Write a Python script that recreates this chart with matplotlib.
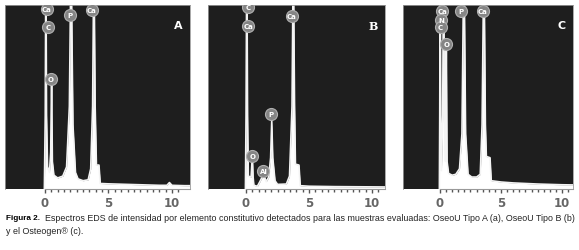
import matplotlib
matplotlib.use('Agg')
import matplotlib.pyplot as plt

# EDS spectra, energy in keV and counts in % of the plot height
energy_a = [-0.05, 0.02, 0.07, 0.12, 0.2, 0.35, 0.45, 0.52, 0.58, 0.7, 1.0, 1.4, 1.7, 1.92, 2.05,
            2.2, 2.4, 2.6, 3.0, 3.4, 3.6, 3.75, 3.85, 3.95, 4.05, 4.25, 4.35, 5, 6, 7, 8, 9,
            9.6, 9.8, 10.0, 11, 11.5]
counts_a = [0, 40, 130, 40, 12, 9, 20, 61, 15, 7.5, 6, 7, 12, 45, 130,
            35, 9, 5.5, 4.5, 5, 11, 45, 130, 45, 13, 13, 3, 2.8, 2.6, 2.4, 2.2, 2,
            2, 3.5, 2, 1.8, 1.8]

energy_b = [-0.05, 0.0, 0.06, 0.12, 0.18, 0.4, 0.5, 0.56, 0.62, 0.9, 1.1, 1.38, 1.6, 1.8, 1.95,
            2.04, 2.12, 2.3, 2.5, 3.2, 3.45, 3.65, 3.75, 3.85, 3.92, 4.2, 4.3, 5, 7, 9, 11.2]
counts_b = [0, 40, 130, 40, 7, 6.5, 18, 6.5, 2, 1.5, 4, 8, 4, 6.5, 17,
            37, 17, 4.5, 2.5, 2.7, 7, 45, 130, 45, 13.5, 13, 1.8, 1.5, 1.3, 1.2, 1.1]

energy_c = [-0.05, -0.02, 0.02, 0.06, 0.12, 0.22, 0.3, 0.36, 0.45, 0.52, 0.58, 0.7, 1.0, 1.3, 1.6,
            1.8, 1.96, 2.1, 2.3, 2.6, 3.0, 3.3, 3.45, 3.6, 3.72, 3.8, 4.1, 4.2, 5, 6, 7, 8, 9,
            10, 11]
counts_c = [0, 40, 130, 40, 10, 40, 130, 40, 15, 79, 15, 8.5, 7.5, 8, 11,
            30, 130, 30, 8, 6.5, 6.5, 8, 35, 130, 35, 17.7, 17, 4.5, 3.8, 3.3, 3, 2.7, 2.5,
            2.3, 2.2]

# element markers: (symbol, energy, height)
labels_a = [('Ca', 0.13, 98), ('C', 0.26, 88), ('O', 0.45, 60), ('P', 1.97, 94.5), ('Ca', 3.68, 97.5)]
labels_b = [('C', 0.18, 99), ('Ca', 0.18, 88.5), ('O', 0.5, 18), ('Al', 1.38, 10),
            ('P', 1.98, 41), ('Ca', 3.62, 94)]
labels_c = [('Ca', 0.2, 97), ('N', 0.1, 92), ('C', 0.05, 88), ('O', 0.52, 79),
            ('P', 1.75, 97), ('Ca', 3.5, 97)]

panels = [
    ('A', energy_a, counts_a, labels_a, [5, 190], (-3.15, 11.42), 'DejaVu Sans'),
    ('B', energy_b, counts_b, labels_b, [208, 385], (-3.02, 11.03), 'DejaVu Serif'),
    ('C', energy_c, counts_c, labels_c, [403, 573], (-3.03, 10.9), 'DejaVu Sans'),
]

W, H = 579, 251
fig = plt.figure(figsize=(W / 100, H / 100), dpi=100)

for letter, en, ct, labs, (x0, x1), xlim, fam in panels:
    ax = fig.add_axes([x0 / W, 1 - 190 / H, (x1 - x0) / W, 184 / H])
    ax.set_facecolor('#1e1e1e')
    ax.fill_between(en, ct, 0, color='white', lw=0)
    ax.plot(en, ct, color='#f4f4f4', lw=1.2)
    ax.set_xlim(*xlim)
    ax.set_ylim(0, 100)
    for sym, e, h in labs:
        ax.scatter([e], [h], s=75, color='#858585', edgecolor='#b0b0b0', lw=0.8, zorder=3)
        ax.text(e, h, sym, color='white', fontsize=5, fontweight='bold',
                ha='center', va='center', zorder=4)
    ax.text(0.935, 0.89, letter, transform=ax.transAxes, color='white', fontsize=8,
            fontweight='bold', family=fam, ha='center', va='center')
    for s in ['top', 'left', 'right']:
        ax.spines[s].set_color('#9a9a9a')
        ax.spines[s].set_linewidth(0.6)
    ax.spines['bottom'].set_color('#999999')
    ax.spines['bottom'].set_bounds(0, xlim[1])
    ax.set_yticks([])
    ax.set_xticks([0, 5, 10])
    ax.set_xticks([v * 0.5 for v in range(1, 22) if v % 10], minor=True)
    ax.tick_params(axis='x', which='major', length=3, width=1, color='#555555',
                   labelsize=8.5, labelcolor='#666666', pad=2)
    ax.tick_params(axis='x', which='minor', length=2, width=1, color='#555555')
    for t in ax.get_xticklabels():
        t.set_fontweight('bold')

fig.text(6 / W, 1 - 219 / H, 'Figura 2.', fontsize=5.9, fontweight='bold',
         family='Liberation Sans', va='center')
fig.text(45 / W, 1 - 219 / H,
         'Espectros EDS de intensidad por elemento constitutivo detectados para las muestras '
         'evaluadas: OseoU Tipo A (a), OseoU Tipo B (b)',
         fontsize=6.4, family='Liberation Sans', va='center', color='#222222')
fig.text(6 / W, 1 - 232 / H, 'y el Osteogen® (c).', fontsize=6.4,
         family='Liberation Sans', va='center', color='#222222')

fig.savefig('out.png', dpi=100)
plt.close()
